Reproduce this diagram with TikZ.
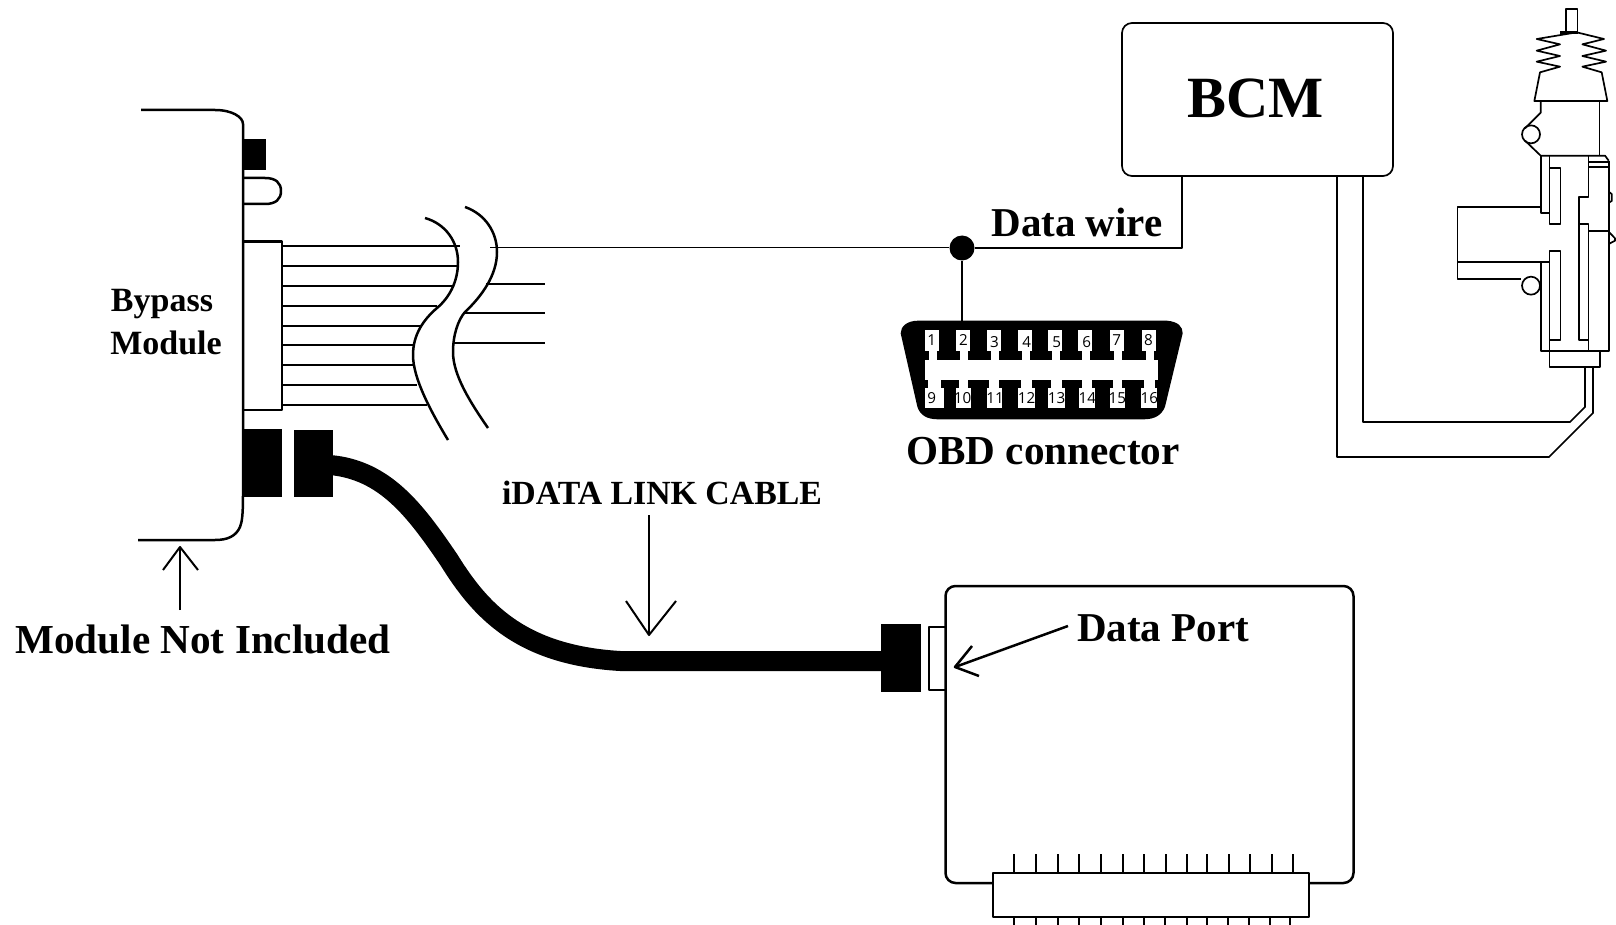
\documentclass[tikz,border=0pt]{standalone}
\usepackage{fontspec}
\setmainfont{Liberation Serif}
\newfontfamily\pindigits{Open Sans}
\newcommand\pxfont[1]{\fontsize{#1}{#1}\selectfont}
\begin{document}
\begin{tikzpicture}[x=0.5pt,y=-0.5pt,line join=round,
  ln/.style={draw=black,line width=1pt},
  hv/.style={draw=black,line width=1.25pt},
  lk/.style={draw=black,line width=0.85pt},
  thin ln/.style={draw=black,line width=0.5pt},
  blk/.style={fill=black,draw=none},
  lbl/.style={inner sep=0pt,font=\bfseries},
  pin/.style={inner sep=0pt,font=\pindigits\pxfont{7.6}},
  box/.style={fill=white,rounded corners=5pt,inner sep=0pt}]
\useasboundingbox (0,0) rectangle (1616,925);
\fill[white] (0,0) rectangle (1616,925);

% --- Bypass module
\draw[hv] (141,110) -- (215,110) .. controls (232,110) and (243,117) .. (243,124) -- (243,495)
   .. controls (243,515) and (242,522) .. (240,527) .. controls (236,536) and (228,540) .. (215,540) -- (138,540);
\fill[blk] (243,139) rectangle (266,170);
\draw[hv] (243,178) -- (265,178) .. controls (276,178) and (281,183) .. (281,191)
   .. controls (281,199) and (276,204) .. (265,204) -- (243,204);
\draw[hv] (243,241.5) -- (282,241.5) -- (282,410) -- (243,410);
% wires to the left of the break
\foreach \y/\e in {246/460,266/458,285.5/453,306/437,326/420,345/413,365/413,385/417,405/427}
  \draw[ln] (282,\y) -- (\e,\y);
% break lines
\draw[hv] (425,218) .. controls (446,224) and (458,242) .. (458,262)
   .. controls (458,282) and (449,298) .. (437,308) .. controls (423,320) and (413,335) .. (413,355)
   .. controls (413,378) and (430,410) .. (448,440);
\draw[hv] (465,207) .. controls (485,214) and (497,232) .. (497,252)
   .. controls (497,275) and (482,296) .. (465,312) .. controls (458,320) and (453,335) .. (453,352)
   .. controls (453,375) and (470,402) .. (488,428);
% wires to the right of the break
\draw[ln] (486,284) -- (545,284);
\draw[ln] (465,313) -- (545,313);
\draw[ln] (454,343) -- (545,343);

% --- Cable and its plugs
\fill[blk] (243,429) rectangle (282,497);
\fill[blk] (294,430) rectangle (333,497);
\node[blk,minimum width=20pt,minimum height=34pt,inner sep=0pt] (endplug) at (901,658) {};
\draw[line width=10pt,black,line cap=butt] (330,465) .. controls (385,470) and (415,510) .. (449,560)
   .. controls (480,610) and (520,655) .. (620,661) -- (885,661);

% --- Computer
\node[box,hv,minimum width=204pt,minimum height=148.5pt] (port) at (1149.5,734.5) {};
\draw[ln,lk] (944.5,627) -- (929,627) -- (929,690) -- (944.5,690);
\foreach \x in {1014,1036,1057.5,1079,1101,1122.5,1144,1165.5,1187,1207,1228.5,1250,1271.5,1293}
  \draw[ln] (\x,854) -- (\x,873);
\foreach \x in {1014,1036,1057.5,1079,1101,1122.5,1144,1165,1187,1207,1228,1248.5,1270,1290}
  \draw[ln] (\x,917) -- (\x,925);
\node[hv,fill=white,minimum width=158pt,minimum height=22pt,inner sep=0pt] (block) at (1151,895) {};

% --- BCM
\node[box,lk,minimum width=135.5pt,minimum height=76.5pt] (bcm) at (1257.5,99.5) {};
\node[lbl] (bcmtext) at (1255.5,98) {\pxfont{29.2}BCM};
\node[circle,fill=black,minimum size=12.5pt,inner sep=0pt] (dot) at (962,248) {};
\coordinate (ws) at (1182,248);
\draw[thin ln] (490,248) -- (dot);
\draw[lk] (dot) -- (ws) -- (bcm.south -| ws);
\coordinate (obdtop) at (962,321);
\draw[lk] (dot) -- (obdtop);

% --- OBD connector
\begin{scope}[shift={(880,300)},x=0.16667pt,y=-0.16667pt]
 \fill[black] (115,62) -- (860,62) .. controls (895,65) and (908,80) .. (908,100)
   -- (855,320) .. controls (845,345) and (825,358) .. (790,358) -- (175,358)
   .. controls (140,358) and (120,345) .. (112,320) -- (62,100) .. controls (62,80) and (80,62) .. (115,62) -- cycle;
 \fill[white] (135,180) rectangle (835,240);
 \foreach \a in {135,228,322,415,505,595,690,785}{
   \fill[white] (\a,90) rectangle ++(42,62);
   \fill[white] (\a+12,150) rectangle ++(24,32);}
 \foreach \a/\b in {135/192,228/272,320/365,415/465,505/555,597/645,690/735,783/832}{
   \fill[white] (\a,265) rectangle (\b,325);
   \fill[white] (\a+8,238) rectangle (\b-8,267);}
 \foreach \t/\a/\b in {1/155/120,2/250/120,3/343/127,4/440/125,5/530/125,6/620/127,7/710/120,8/805/120,
    9/155/295,10/248/295,11/345/295,12/440/295,13/530/295,14/622/295,15/712/295,16/808/295}
   \node[pin] (p\t) at (\a,\b) {\t};
\end{scope}

% --- Door lock actuator (3x coordinates)
\begin{scope}[shift={(1420,0)},x=0.16667pt,y=-0.16667pt]
 \draw[lk] (438,97) -- (438,28) -- (472,28) -- (472,97);
 \draw[line width=1.3pt] (420,97) -- (475,97);
 \draw[lk] (470,97) -- (350,117) -- (420,133) -- (350,152) -- (420,168) -- (350,185) -- (420,200) -- (360,217)
   -- (343,303) -- (562,303) -- (545,217) -- (487,200) -- (558,185) -- (487,168) -- (558,152) -- (487,133) -- (552,117) -- (470,97);
 % upper body with mounting ear
 \draw[lk] (362,303) -- (362,338) -- (315,385);
 \draw[lk] (315,422) -- (362,467) -- (555,467) -- (566,482);
 \draw[lk] (333,403) circle[radius=27];
 \draw[lk] (538,303) -- (538,467);
 % outer shell
 \draw[lk] (566,482) -- (566,1052) -- (362,1052) -- (362,785);
 \draw[lk] (362,467) -- (362,640) -- (388,640);
 % arm housing
 \draw[lk] (362,620) -- (112,620) -- (112,837) -- (302,837);
 \draw[lk] (112,785) -- (388,785);
 \draw[lk] (333,857) circle[radius=27];
 % inner slides
 \draw[lk] (388,467) -- (388,503);
 \draw[lk] (388,503) rectangle (421,673);
 \draw[lk] (388,752) rectangle (421,1020);
 \draw[lk] (388,1020) -- (388,1052);
 \draw[lk] (505,467) -- (505,592) -- (477,592) -- (477,1020) -- (505,1020) -- (505,673) -- (477,673);
 \draw[lk] (505,1020) -- (505,1052);
 \draw[lk] (505,485) -- (566,485);
 \draw[lk] (505,502) -- (566,502);
 \draw[lk] (505,693) -- (566,693);
 \draw[lk] (566,575) -- (575,582) -- (575,603) -- (566,608);
 \draw[lk] (566,695) -- (585,715) -- (585,722) -- (566,732);
 % foot
 \draw[lk] (388,1052) rectangle (540,1100);
\end{scope}
\coordinate (lockA) at (1585,367);
\coordinate (lockB) at (1593,367);
\coordinate (wa) at (1363,422);
\coordinate (wb) at (1337,457);
\draw[lk] (lockA) -- (1585,407) -- (1570,422) -- (wa) -- (bcm.south -| wa);
\draw[lk] (lockB) -- (1593,413) -- (1549,457) -- (wb) -- (bcm.south -| wb);

% --- Labels
\node[lbl] (ldata) at (1077,222) {\pxfont{20.5}Data wire};
\node[lbl] (lobd) at (1043,451) {\pxfont{20.6}OBD connector};
\node[lbl] (lcable) at (662,493) {\pxfont{16.9}iDATA LINK CABLE};
\node[lbl] (lport) at (1163,628) {\pxfont{20.5}Data Port};
\node[lbl] (lnot) at (203,639) {\pxfont{20.6}Module Not Included};
\node[lbl] (lby) at (162,304) {\pxfont{17}Bypass};
\node[lbl] (lmo) at (166,343) {\pxfont{17}Module};

% --- Arrows
\coordinate (a1) at (649,515); \coordinate (a1t) at (649,635);
\draw[ln] (a1) -- (a1t);
\draw[ln] (626,601) -- (a1t) -- (676,601);
\coordinate (a2) at (180,610); \coordinate (a2t) at (180,547);
\draw[ln] (a2) -- (a2t);
\draw[ln] (163,570) -- (a2t) -- (198,570);
\coordinate (a3) at (1068,626); \coordinate (a3t) at (955,667);
\draw[hv] (a3) -- (a3t);
\draw[hv] (972,646) -- (a3t) -- (979,676);
\end{tikzpicture}
\end{document}
